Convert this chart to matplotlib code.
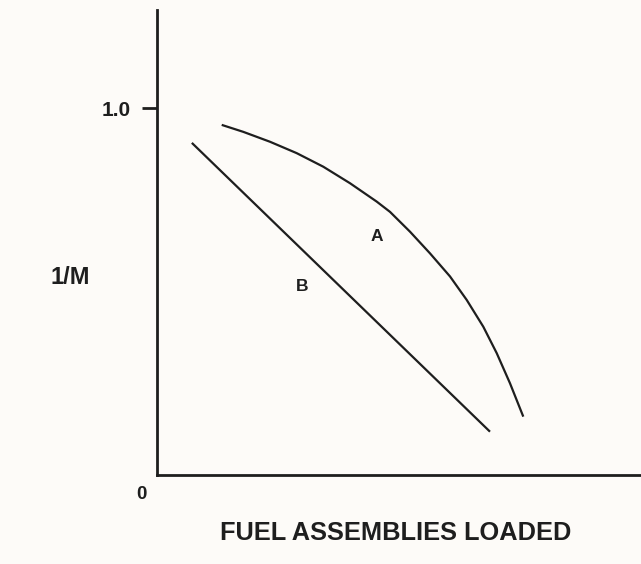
import matplotlib
matplotlib.use('Agg')
import matplotlib.pyplot as plt

# curve A
a_x = [13.37, 17.83, 23.35, 28.86, 34.36, 39.88, 45.39, 48.14,
       52.27, 56.40, 60.54, 63.99, 67.42, 70.19, 72.93, 75.68]
a_y = [0.954, 0.935, 0.908, 0.877, 0.840, 0.795, 0.745, 0.717,
       0.663, 0.604, 0.541, 0.477, 0.404, 0.332, 0.250, 0.159]
# line B
b_x = [7.2, 68.8]
b_y = [0.905, 0.118]

plt.rcParams['font.family'] = ['Liberation Sans', 'DejaVu Sans']
bg = '#fdfbf8'
ink = '#1e1e1e'

fig = plt.figure(figsize=(6.41, 5.64), dpi=100, facecolor=bg)
ax = fig.add_axes([157/641, 89/564, 484/641, 465/564], facecolor=bg)

ax.plot(a_x, a_y, color=ink, lw=1.6, solid_joinstyle='round', solid_capstyle='butt')
ax.plot(b_x, b_y, color=ink, lw=1.6, solid_capstyle='butt')
ax.text(45.4, 0.649, 'A', fontsize=12.5, fontweight='bold', ha='center', va='center', color=ink)
ax.text(29.9, 0.513, 'B', fontsize=12.5, fontweight='bold', ha='center', va='center', color=ink)

ax.set_xlim(0, 100)
ax.set_ylim(0, 465/367)

for s in ['top', 'right']:
    ax.spines[s].set_visible(False)
for s in ['left', 'bottom']:
    ax.spines[s].set_linewidth(2)
    ax.spines[s].set_color(ink)

ax.set_xticks([])
ax.set_yticks([1.0])
ax.set_yticklabels(['1.0'], fontsize=15, fontweight='bold', color=ink)
ax.tick_params(axis='y', length=11, width=2, color=ink, pad=8)

ax.annotate('0', (0, 0), xytext=(-11.5, -13.7), textcoords='offset points',
            fontsize=13.5, fontweight='bold', ha='center', va='center', color=ink)

ax.set_ylabel('1/M', rotation=0, fontsize=17, fontweight='bold', color=ink,
              ha='center', va='center')
ax.yaxis.set_label_coords(-0.18, 0.424)
ax.set_xlabel('FUEL ASSEMBLIES LOADED', fontsize=18.3, fontweight='bold', color=ink,
              ha='center', va='center')
ax.xaxis.set_label_coords(0.494, -0.125)

fig.savefig('out.png', dpi=100, facecolor=bg)
